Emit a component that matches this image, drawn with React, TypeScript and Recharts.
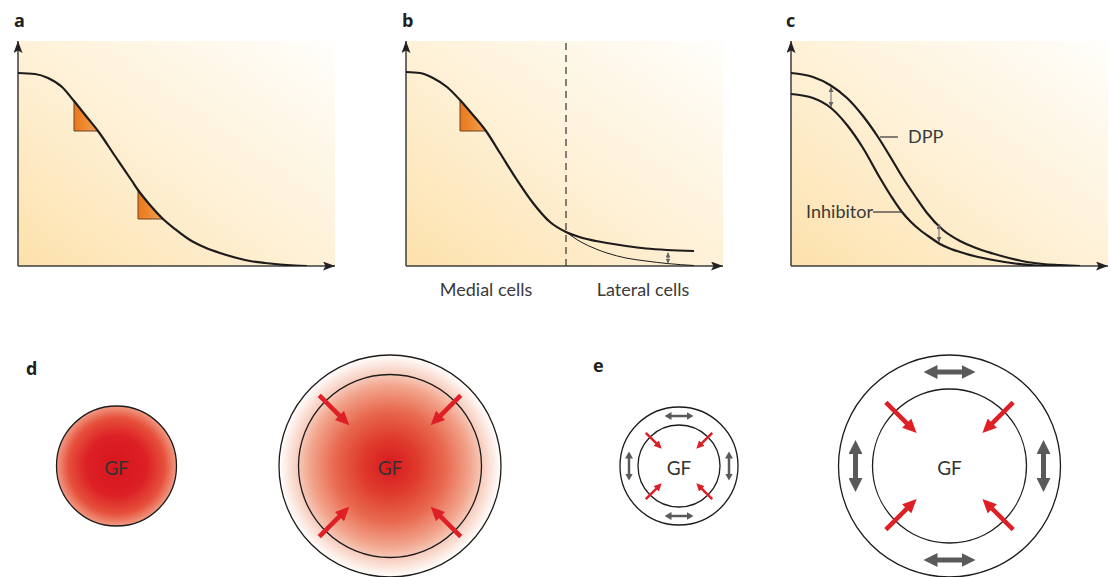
import React from "react";
import {
  ComposedChart,
  Line,
  Area,
  XAxis,
  YAxis,
  ReferenceArea,
  ReferenceLine,
  ScatterChart,
  Scatter,
} from "recharts";

const X_MAX = 317;
const Y_MAX = 225;

// a: one gradient, two slope triangles
const curveAX = [0, 17, 30, 44, 56, 68, 80, 97, 114, 120, 132, 145, 157, 172, 187, 202, 217, 232, 247, 262, 277, 289];
const curveAY = [193, 192, 188, 179, 165, 150, 135, 110, 85, 76, 61, 47, 37, 26, 18.5, 13, 8.5, 5, 3, 1.5, 0.5, 0];
const triA1X = [56, 68, 80];
const triA1Top = [165, 150, 135];
const triA2X = [120, 132, 145];
const triA2Top = [76, 61, 47];

// b: medial gradient, lateral tail raised
const curveBX = [0, 14, 27, 41, 54, 67, 80, 94, 111, 127, 144, 160, 175, 190, 201, 220, 240, 261, 288];
const curveBY = [194, 193, 188, 179, 166, 151, 135, 113, 86, 63, 44, 34, 28.5, 25, 23, 20, 17.5, 16, 15];
const thinTailX = [160, 175, 190, 201, 220, 240, 261, 288];
const thinTailY = [34, 24, 17, 13, 8, 5, 2.5, 0.5];
const triBX = [54, 67, 80];
const triBTop = [166, 151, 135];
const boundaryX = 160;
const cellTicks = [80, 237];
const cellLabels = ["Medial cells", "Lateral cells"];
const liftArrowB = { x: 262, y0: 13.5, y1: 2.5 };

// c: DPP and inhibitor
const dppX = [0, 22, 39, 56, 72, 87, 100, 112, 124, 136, 152, 169, 185, 202, 220, 236, 252, 269, 289];
const dppY = [193, 189, 181, 168, 150, 129, 108, 88, 70, 53, 36, 25, 18, 12.5, 7.5, 4, 2, 1, 0];
const inhX = [0, 22, 40, 56, 72, 89, 100, 111, 120, 129, 140, 149, 160, 169, 185, 202, 224, 246, 289];
const inhY = [172, 168, 158, 141, 118, 88, 70, 54, 44, 36, 28, 22, 17, 14, 9.5, 6, 2.5, 0.5, 0];
const gapArrowsC = [
  { x: 40, y0: 179, y1: 159 },
  { x: 148, y0: 42, y1: 24 },
];
const dppLeader = { x0: 89, x1: 107, y: 129 };
const inhLeader = { x0: 82, x1: 111, y: 54 };

// ---- bottom panels (d, e) ----
const B_X = [0, 1111];
const B_Y = [300, 577];
const dSmall = [{ x: 116.5, y: 466, r: 60 }];
const dLarge = [{ x: 390, y: 466, r: 111, inner: 91.5 }];
const eSmall = [{ x: 679, y: 466, r: 59, inner: 41 }];
const eLarge = [{ x: 949.5, y: 466, r: 111, inner: 77 }];
const redArrowsBig = [
  { cx: 390, cy: 466, from: 100, tip: 57 },
  { cx: 949.5, cy: 466, from: 90, tip: 46 },
];
const redArrowsSmall = [{ cx: 679, cy: 466, from: 47, tip: 24 }];
const grayArrowsBig = [{ cx: 949.5, cy: 466, ring: 94, half: 26.5 }];
const grayArrowsSmall = [{ cx: 679, cy: 466, ring: 50, half: 15 }];
const GF_LABEL = "GF";

const TEXT = "Lato, 'Open Sans', sans-serif";
const INK = "#1d1b1b";
const AXIS = "#3d3d3d";
const RED = "#de1f26";
const GRAY = "#5a5a5a";
const UNIT = 1111 / (B_X[1] - B_X[0]);

const zip = (xs: number[], ys: number[]) => xs.map((x, i) => ({ x, y: ys[i] }));
const tri = (xs: number[], top: number[]) =>
  xs.map((x, i) => ({ x, r: [top[top.length - 1], top[i]] }));

function topDefs(id: string) {
  return (
    <defs key="defs">
      <linearGradient id={`bg-${id}`} x1="0" y1="1" x2="1" y2="0">
        <stop offset="0%" stopColor="#fde1ab" />
        <stop offset="45%" stopColor="#fef0d4" />
        <stop offset="100%" stopColor="#fffefb" />
      </linearGradient>
      <linearGradient id={`tri-${id}`} x1="0" y1="0" x2="1" y2="0">
        <stop offset="0%" stopColor="#e9771c" />
        <stop offset="100%" stopColor="#f3a24e" />
      </linearGradient>
      <marker id={`ax-${id}`} viewBox="0 0 12 9" refX="12" refY="4.5" markerWidth="12" markerHeight="9"
        markerUnits="userSpaceOnUse" orient="auto-start-reverse">
        <path d="M0,0 L12,4.5 L0,9 L2.5,4.5 z" fill="#222" />
      </marker>
      <marker id={`sm-${id}`} viewBox="0 0 5 5" refX="5" refY="2.5" markerWidth="5" markerHeight="5"
        markerUnits="userSpaceOnUse" orient="auto-start-reverse">
        <path d="M0,0 L5,2.5 L0,5 z" fill="#666" />
      </marker>
    </defs>
  );
}

function topFrame(id: string, ticks: number[] = [], labels: string[] = []) {
  return [
    <XAxis
      key="x"
      type="number"
      dataKey="x"
      domain={[0, X_MAX]}
      allowDataOverflow
      height={34}
      ticks={ticks}
      interval={0}
      axisLine={false}
      tickLine={false}
      tickSize={0}
      tickMargin={17}
      tick={ticks.length ? { fill: "#3a3a3a", fontSize: 18, fontFamily: TEXT } : false}
      tickFormatter={(v: number) => labels[ticks.indexOf(v)] ?? ""}
    />,
    <YAxis key="y" hide type="number" domain={[0, Y_MAX]} allowDataOverflow />,
    <ReferenceArea
      key="bg"
      x1={0}
      x2={X_MAX}
      y1={0}
      y2={Y_MAX}
      fill={`url(#bg-${id})`}
      fillOpacity={1}
      stroke="none"
    />,
    <ReferenceLine
      key="xaxis"
      segment={[{ x: 0, y: 0 }, { x: X_MAX, y: 0 }]}
      stroke={AXIS}
      strokeWidth={1.5}
      markerEnd={`url(#ax-${id})`}
    />,
    <ReferenceLine
      key="yaxis"
      segment={[{ x: 0, y: 0 }, { x: 0, y: Y_MAX }]}
      stroke={AXIS}
      strokeWidth={1.5}
      markerEnd={`url(#ax-${id})`}
    />,
  ];
}

function triangle(id: string, xs: number[], top: number[], key: string) {
  const base = top[top.length - 1];
  return [
    <Area
      key={key}
      data={tri(xs, top)}
      dataKey="r"
      type="linear"
      fill={`url(#tri-${id})`}
      fillOpacity={1}
      stroke="#6e4520"
      strokeWidth={1}
      dot={false}
      activeDot={false}
      isAnimationActive={false}
    />,
    <ReferenceLine
      key={key + "-leg"}
      segment={[{ x: xs[0], y: base }, { x: xs[0], y: top[0] }]}
      stroke="#6e4520"
      strokeWidth={1}
    />,
  ];
}

const chartProps = {
  width: 340,
  height: 300,
  margin: { top: 41, right: 5, bottom: 0, left: 18 },
};

function PanelA() {
  return (
    <ComposedChart {...chartProps}>
      {topDefs("a")}
      {topFrame("a")}
      {triangle("a", triA1X, triA1Top, "t1")}
      {triangle("a", triA2X, triA2Top, "t2")}
      <Line data={zip(curveAX, curveAY)} dataKey="y" type="monotone" stroke={INK} strokeWidth={2.2}
        dot={false} activeDot={false} isAnimationActive={false} />
    </ComposedChart>
  );
}

function PanelB() {
  return (
    <ComposedChart {...chartProps}>
      {topDefs("b")}
      {topFrame("b", cellTicks, cellLabels)}
      <ReferenceLine x={boundaryX} stroke="#333" strokeWidth={1.2} strokeDasharray="7 5" />
      {triangle("b", triBX, triBTop, "t1")}
      <Line data={zip(thinTailX, thinTailY)} dataKey="y" type="monotone" stroke={INK} strokeWidth={1}
        dot={false} activeDot={false} isAnimationActive={false} />
      <Line data={zip(curveBX, curveBY)} dataKey="y" type="monotone" stroke={INK} strokeWidth={2.2}
        dot={false} activeDot={false} isAnimationActive={false} />
      <ReferenceLine
        segment={[{ x: liftArrowB.x, y: liftArrowB.y0 }, { x: liftArrowB.x, y: liftArrowB.y1 }]}
        stroke="#666" strokeWidth={1} markerStart="url(#sm-b)" markerEnd="url(#sm-b)" />
    </ComposedChart>
  );
}

function PanelC() {
  return (
    <ComposedChart {...chartProps}>
      {topDefs("c")}
      {topFrame("c")}
      <Line data={zip(dppX, dppY)} dataKey="y" type="monotone" stroke={INK} strokeWidth={2.2}
        dot={false} activeDot={false} isAnimationActive={false} />
      <Line data={zip(inhX, inhY)} dataKey="y" type="monotone" stroke={INK} strokeWidth={2.2}
        dot={false} activeDot={false} isAnimationActive={false} />
      {gapArrowsC.map((g, i) => (
        <ReferenceLine key={"g" + i} segment={[{ x: g.x, y: g.y0 }, { x: g.x, y: g.y1 }]}
          stroke="#666" strokeWidth={1} markerStart="url(#sm-c)" markerEnd="url(#sm-c)" />
      ))}
      <ReferenceLine segment={[{ x: dppLeader.x0, y: dppLeader.y }, { x: dppLeader.x1, y: dppLeader.y }]}
        stroke="#333" strokeWidth={1.2} />
      <ReferenceLine segment={[{ x: inhLeader.x0, y: inhLeader.y }, { x: inhLeader.x1, y: inhLeader.y }]}
        stroke="#333" strokeWidth={1.2} />
    </ComposedChart>
  );
}

const DIAG = [
  [-1, -1],
  [1, -1],
  [-1, 1],
  [1, 1],
].map(([a, b]) => [a / Math.SQRT2, b / Math.SQRT2]);

// arrow records: tail at (x, y), shaft end at (x2, y2)
function redSegments(list: typeof redArrowsBig, head: number) {
  return list.flatMap((a) =>
    DIAG.map(([dx, dy]) => ({
      x: a.cx + dx * a.from,
      y: a.cy + dy * a.from,
      x2: a.cx + dx * (a.tip + head),
      y2: a.cy + dy * (a.tip + head),
    }))
  );
}

function graySegments(list: typeof grayArrowsBig, head: number) {
  return list.flatMap((g) => {
    const h = g.half - head;
    return [
      { x: g.cx - h, y: g.cy - g.ring, x2: g.cx + h, y2: g.cy - g.ring },
      { x: g.cx - h, y: g.cy + g.ring, x2: g.cx + h, y2: g.cy + g.ring },
      { x: g.cx - g.ring, y: g.cy - h, x2: g.cx - g.ring, y2: g.cy + h },
      { x: g.cx + g.ring, y: g.cy - h, x2: g.cx + g.ring, y2: g.cy + h },
    ];
  });
}

const ringShape = (fill: string, label: boolean) => (p: any) => {
  const { cx, cy, payload } = p;
  return (
    <g>
      <circle cx={cx} cy={cy} r={payload.r * UNIT} fill={fill} stroke={INK} strokeWidth={1.3} />
      {payload.inner ? (
        <circle cx={cx} cy={cy} r={payload.inner * UNIT} fill="none" stroke={INK} strokeWidth={1.3} />
      ) : null}
      {label ? (
        <text x={cx} y={cy + 1} textAnchor="middle" dominantBaseline="central" fontSize={19}
          fontFamily={TEXT} fill="#333">
          {GF_LABEL}
        </text>
      ) : null}
    </g>
  );
};

const arrowShape = (color: string, width: number, marker: string, both: boolean) => (p: any) => {
  const { cx, cy, payload } = p;
  return (
    <line
      x1={cx}
      y1={cy}
      x2={cx + (payload.x2 - payload.x) * UNIT}
      y2={cy + (payload.y2 - payload.y) * UNIT}
      stroke={color}
      strokeWidth={width}
      markerEnd={`url(#${marker})`}
      markerStart={both ? `url(#${marker})` : undefined}
    />
  );
};

function BottomPanels() {
  return (
    <ScatterChart width={1111} height={277} margin={{ top: 0, right: 0, bottom: 0, left: 0 }}>
      <defs>
        <radialGradient id="gfSmall">
          <stop offset="0%" stopColor="#d8151e" />
          <stop offset="50%" stopColor="#dc2025" />
          <stop offset="80%" stopColor="#e6503b" />
          <stop offset="100%" stopColor="#f19a83" />
        </radialGradient>
        <radialGradient id="gfLarge">
          <stop offset="0%" stopColor="#d8181f" />
          <stop offset="25%" stopColor="#df3a2c" />
          <stop offset="50%" stopColor="#e8694f" />
          <stop offset="72%" stopColor="#f2a48c" />
          <stop offset="85%" stopColor="#f8d2c4" />
          <stop offset="95%" stopColor="#fdf0ea" />
          <stop offset="100%" stopColor="#ffffff" />
        </radialGradient>
        <marker id="redBig" viewBox="0 0 14 13" refX="0.5" refY="6.5" markerWidth="14" markerHeight="13"
          markerUnits="userSpaceOnUse" orient="auto-start-reverse">
          <path d="M0,0 L14,6.5 L0,13 z" fill={RED} />
        </marker>
        <marker id="redSmall" viewBox="0 0 8 8" refX="0.5" refY="4" markerWidth="8" markerHeight="8"
          markerUnits="userSpaceOnUse" orient="auto-start-reverse">
          <path d="M0,0 L8,4 L0,8 z" fill={RED} />
        </marker>
        <marker id="grayBig" viewBox="0 0 14 14" refX="0.5" refY="7" markerWidth="14" markerHeight="14"
          markerUnits="userSpaceOnUse" orient="auto-start-reverse">
          <path d="M0,0 L14,7 L0,14 z" fill={GRAY} />
        </marker>
        <marker id="graySmall" viewBox="0 0 7 8" refX="0.5" refY="4" markerWidth="7" markerHeight="8"
          markerUnits="userSpaceOnUse" orient="auto-start-reverse">
          <path d="M0,0 L7,4 L0,8 z" fill={GRAY} />
        </marker>
      </defs>
      <XAxis hide type="number" dataKey="x" domain={B_X} allowDataOverflow />
      <YAxis hide type="number" dataKey="y" domain={B_Y} reversed allowDataOverflow />
      <Scatter data={dSmall} shape={ringShape("url(#gfSmall)", true)} isAnimationActive={false} />
      <Scatter data={dLarge} shape={ringShape("url(#gfLarge)", true)} isAnimationActive={false} />
      <Scatter data={eSmall} shape={ringShape("none", true)} isAnimationActive={false} />
      <Scatter data={eLarge} shape={ringShape("none", true)} isAnimationActive={false} />
      <Scatter data={redSegments(redArrowsBig, 14)} shape={arrowShape(RED, 4.5, "redBig", false)}
        isAnimationActive={false} />
      <Scatter data={redSegments(redArrowsSmall, 8)} shape={arrowShape(RED, 2.5, "redSmall", false)}
        isAnimationActive={false} />
      <Scatter data={graySegments(grayArrowsBig, 14)} shape={arrowShape(GRAY, 5, "grayBig", true)}
        isAnimationActive={false} />
      <Scatter data={graySegments(grayArrowsSmall, 7)} shape={arrowShape(GRAY, 2.5, "graySmall", true)}
        isAnimationActive={false} />
    </ScatterChart>
  );
}

const letter = (ch: string, left: number, top: number) => (
  <div
    style={{
      position: "absolute",
      left,
      top,
      fontSize: 18,
      lineHeight: "18px",
      fontWeight: 700,
      fontFamily: "'Open Sans', sans-serif",
      color: "#231f20",
    }}
  >
    {ch}
  </div>
);

const note = { position: "absolute" as const, fontSize: 18, lineHeight: "18px", fontFamily: TEXT, color: "#3a3a3a" };

export default function App() {
  return (
    <div
      style={{
        position: "absolute",
        left: 0,
        top: 0,
        width: 1111,
        height: 577,
        overflow: "hidden",
        background: "#fff",
      }}
    >
      <div style={{ position: "absolute", left: 0, top: 0 }}>
        <PanelA />
      </div>
      <div style={{ position: "absolute", left: 388, top: 0 }}>
        <PanelB />
      </div>
      <div style={{ position: "absolute", left: 773, top: 0 }}>
        <PanelC />
      </div>
      <div style={{ position: "absolute", left: 0, top: 300 }}>
        <BottomPanels />
      </div>
      {letter("a", 14, 11)}
      {letter("b", 402, 11)}
      {letter("c", 786, 11)}
      {letter("d", 26, 359)}
      {letter("e", 593, 356)}
      <div style={{ ...note, left: 908, top: 127 }}>DPP</div>
      <div style={{ ...note, left: 713, top: 202, width: 160, textAlign: "right" }}>Inhibitor</div>
    </div>
  );
}
